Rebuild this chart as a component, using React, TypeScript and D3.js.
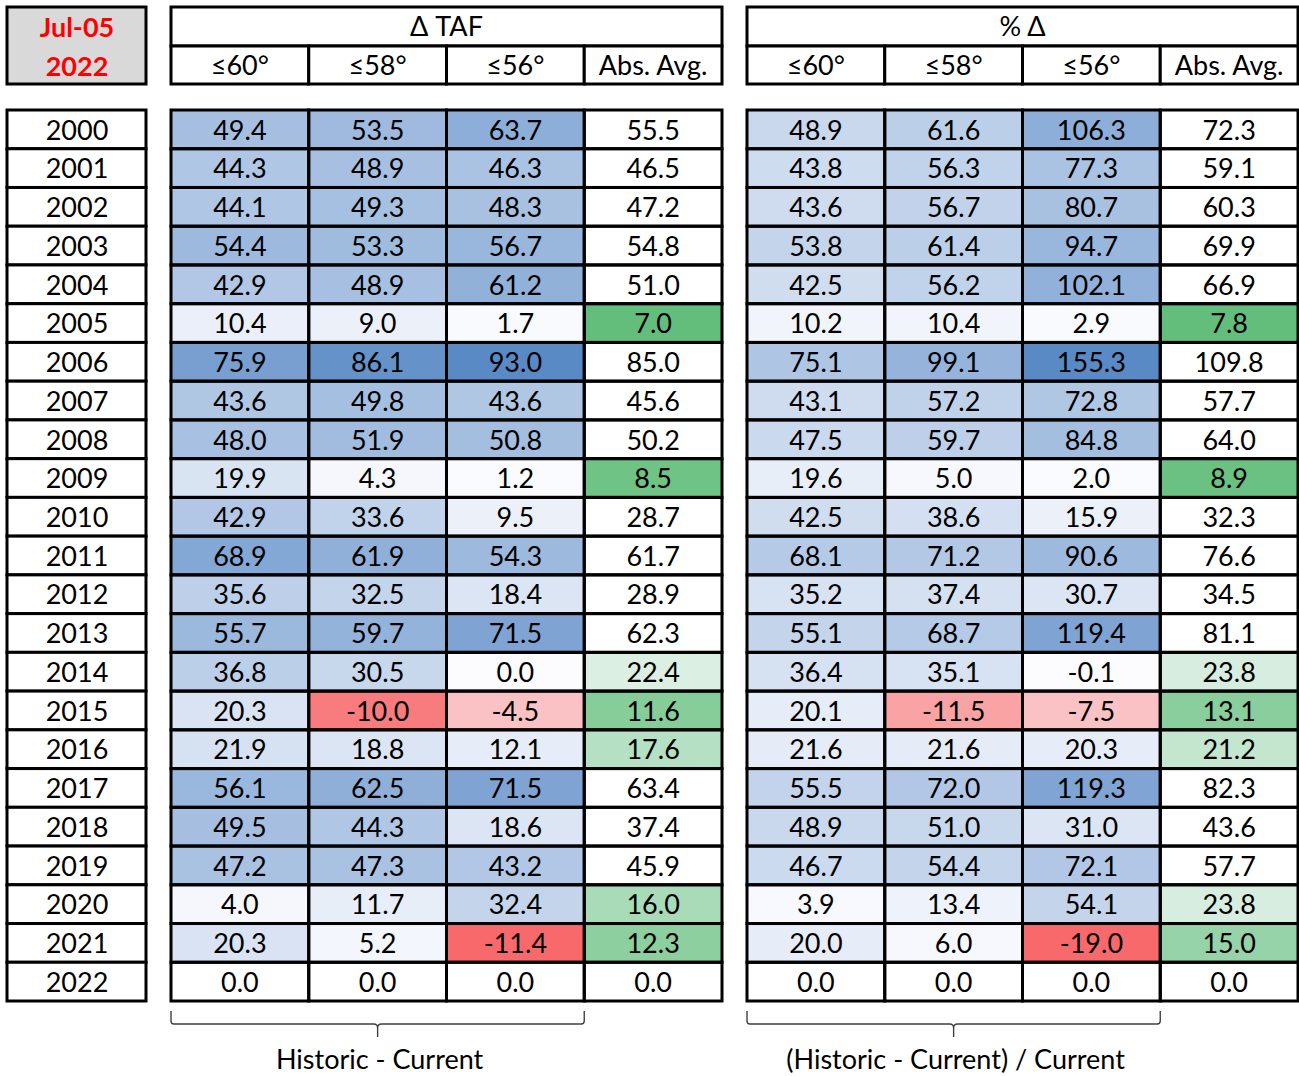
import React from 'react'
import * as d3 from 'd3'

const years = d3.range(2000, 2023).map(String)

// Δ TAF columns
const tafLe60 = [49.4, 44.3, 44.1, 54.4, 42.9, 10.4, 75.9, 43.6, 48.0, 19.9, 42.9, 68.9, 35.6, 55.7, 36.8, 20.3, 21.9, 56.1, 49.5, 47.2, 4.0, 20.3, 0.0]
const tafLe58 = [53.5, 48.9, 49.3, 53.3, 48.9, 9.0, 86.1, 49.8, 51.9, 4.3, 33.6, 61.9, 32.5, 59.7, 30.5, -10.0, 18.8, 62.5, 44.3, 47.3, 11.7, 5.2, 0.0]
const tafLe56 = [63.7, 46.3, 48.3, 56.7, 61.2, 1.7, 93.0, 43.6, 50.8, 1.2, 9.5, 54.3, 18.4, 71.5, 0.0, -4.5, 12.1, 71.5, 18.6, 43.2, 32.4, -11.4, 0.0]
const tafAbsAvg = [55.5, 46.5, 47.2, 54.8, 51.0, 7.0, 85.0, 45.6, 50.2, 8.5, 28.7, 61.7, 28.9, 62.3, 22.4, 11.6, 17.6, 63.4, 37.4, 45.9, 16.0, 12.3, 0.0]

// % Δ columns
const pctLe60 = [48.9, 43.8, 43.6, 53.8, 42.5, 10.2, 75.1, 43.1, 47.5, 19.6, 42.5, 68.1, 35.2, 55.1, 36.4, 20.1, 21.6, 55.5, 48.9, 46.7, 3.9, 20.0, 0.0]
const pctLe58 = [61.6, 56.3, 56.7, 61.4, 56.2, 10.4, 99.1, 57.2, 59.7, 5.0, 38.6, 71.2, 37.4, 68.7, 35.1, -11.5, 21.6, 72.0, 51.0, 54.4, 13.4, 6.0, 0.0]
const pctLe56 = [106.3, 77.3, 80.7, 94.7, 102.1, 2.9, 155.3, 72.8, 84.8, 2.0, 15.9, 90.6, 30.7, 119.4, -0.1, -7.5, 20.3, 119.3, 31.0, 72.1, 54.1, -19.0, 0.0]
const pctAbsAvg = [72.3, 59.1, 60.3, 69.9, 66.9, 7.8, 109.8, 57.7, 64.0, 8.9, 32.3, 76.6, 34.5, 81.1, 23.8, 13.1, 21.2, 82.3, 43.6, 57.7, 23.8, 15.0, 0.0]

const colLabels = ['≤60°', '≤58°', '≤56°', 'Abs. Avg.']

const FONT = "Lato, 'Open Sans', 'DejaVu Sans', sans-serif"
const RED = '#f8696b'
const WHITE = '#fcfcff'
const BLUE = '#5a8ac6'
const GREEN = '#63be7b'
const FS = 27

const rowBand = d3.scaleBand<string>().domain(years).range([110, 1001])

interface Block {
    title: string
    x0: number
    x1: number
    cols: number[][]
    greenEnd: number
    note: string
}

const blocks: Block[] = [
    { title: 'Δ TAF', x0: 171, x1: 722, cols: [tafLe60, tafLe58, tafLe56, tafAbsAvg], greenEnd: 26.5, note: 'Historic - Current' },
    { title: '% Δ', x0: 747, x1: 1298, cols: [pctLe60, pctLe58, pctLe56, pctAbsAvg], greenEnd: 29, note: '(Historic - Current) / Current' },
]

const fmt = (v: number) => v.toFixed(1)

const TableBlock = ({ b }: { b: Block }) => {
    const colBand = d3.scaleBand<string>().domain(colLabels).range([b.x0, b.x1])
    const vals = b.cols.slice(0, 3).flat()
    // red - white - blue, midpoint at 0
    const diverging = d3.scaleLinear<string>()
        .domain([d3.min(vals)!, 0, d3.max(vals)!])
        .range([RED, WHITE, BLUE])
        .interpolate(d3.interpolateRgb)
    const avg = b.cols[3]
    const minAvg = d3.min(avg.filter(v => v !== 0))!
    const greenScale = d3.scaleLinear<string>()
        .domain([minAvg, b.greenEnd])
        .range([GREEN, WHITE])
        .clamp(true)
    const cellFill = (ci: number, v: number, yi: number) => {
        if (years[yi] === '2022') return '#ffffff'
        if (ci < 3) return diverging(v)
        return v <= b.greenEnd ? greenScale(v) : '#ffffff'
    }
    const hTop = 7, hMid = 46, hBot = 84
    const bx0 = colBand(colLabels[0])!
    const bx1 = colBand(colLabels[2])! + colBand.bandwidth()
    const bMid = (bx0 + bx1) / 2
    const by0 = 1011, by1 = 1024, by2 = 1037
    const brace = d3.path()
    brace.moveTo(bx0, by0)
    brace.lineTo(bx0, by1 - 3)
    brace.quadraticCurveTo(bx0, by1, bx0 + 3, by1)
    brace.lineTo(bMid - 4, by1)
    brace.quadraticCurveTo(bMid, by1, bMid, by1 + 4)
    brace.lineTo(bMid, by2)
    brace.moveTo(bMid, by1 + 4)
    brace.quadraticCurveTo(bMid, by1, bMid + 4, by1)
    brace.lineTo(bx1 - 3, by1)
    brace.quadraticCurveTo(bx1, by1, bx1, by1 - 3)
    brace.lineTo(bx1, by0)
    return (
        <g>
            <rect x={b.x0} y={hTop} width={b.x1 - b.x0} height={hMid - hTop} fill="#fff" stroke="#000" strokeWidth={3} />
            <text x={(b.x0 + b.x1) / 2} y={(hTop + hMid) / 2} dy="0.37em" textAnchor="middle" fontSize={FS}>{b.title}</text>
            {colLabels.map(c => (
                <g key={c}>
                    <rect x={colBand(c)} y={hMid} width={colBand.bandwidth()} height={hBot - hMid} fill="#fff" stroke="#000" strokeWidth={3} />
                    <text x={colBand(c)! + colBand.bandwidth() / 2} y={(hMid + hBot) / 2} dy="0.37em" textAnchor="middle" fontSize={FS}>{c}</text>
                </g>
            ))}
            {b.cols.map((col, ci) => col.map((v, yi) => (
                <rect key={`r${ci}-${yi}`} x={colBand(colLabels[ci])} y={rowBand(years[yi])} width={colBand.bandwidth()} height={rowBand.bandwidth()}
                      fill={cellFill(ci, v, yi)} stroke="none" />
            )))}
            {b.cols.map((col, ci) => col.map((v, yi) => (
                <g key={`c${ci}-${yi}`}>
                    <rect x={colBand(colLabels[ci])} y={rowBand(years[yi])} width={colBand.bandwidth()} height={rowBand.bandwidth()}
                          fill="none" stroke="#000" strokeWidth={3} />
                    <text x={colBand(colLabels[ci])! + colBand.bandwidth() / 2} y={rowBand(years[yi])! + rowBand.bandwidth() / 2}
                          dy="0.38em" textAnchor="middle" fontSize={FS}>{fmt(v)}</text>
                </g>
            )))}
            <path d={brace.toString()} fill="none" stroke="#404040" strokeWidth={1.4} />
            <text x={bMid + 2} y={1069} textAnchor="middle" fontSize={27}>{b.note}</text>
        </g>
    )
}

const App = () => {
    return (
        <svg width={1299} height={1076} style={{ position: 'absolute', left: 0, top: 0, background: '#fff' }} fontFamily={FONT} fill="#000">
            <rect x={0} y={0} width={1299} height={1076} fill="#fff" />
            <rect x={7} y={7} width={139} height={77} fill="#d9d9d9" stroke="#000" strokeWidth={3} />
            <text x={77} y={27} dy="0.37em" textAnchor="middle" fontSize={FS} fontWeight="bold" fill="#ff0000">Jul-05</text>
            <text x={77} y={66} dy="0.37em" textAnchor="middle" fontSize={FS} fontWeight="bold" fill="#ff0000">2022</text>
            {years.map(y => (
                <g key={y}>
                    <rect x={7} y={rowBand(y)} width={139} height={rowBand.bandwidth()} fill="#fff" stroke="#000" strokeWidth={3} />
                    <text x={77} y={rowBand(y)! + rowBand.bandwidth() / 2} dy="0.38em" textAnchor="middle" fontSize={FS}>{y}</text>
                </g>
            ))}
            {blocks.map(b => <TableBlock key={b.title} b={b} />)}
        </svg>
    )
}

export default App
